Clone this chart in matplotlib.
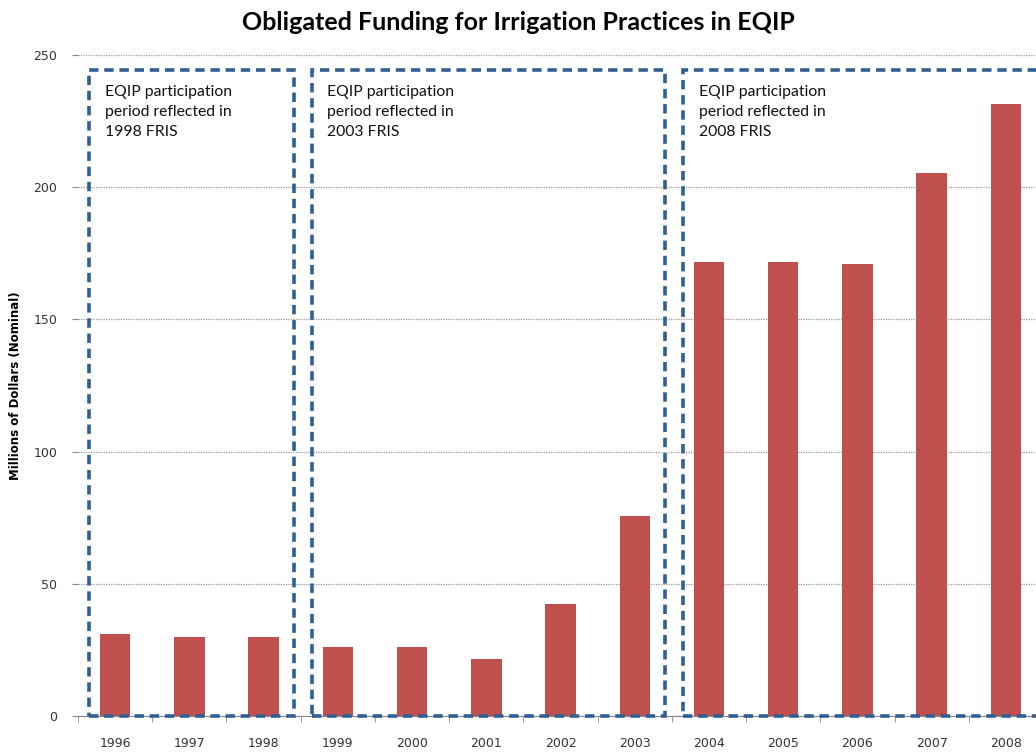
import matplotlib.pyplot as plt
from matplotlib.patches import Rectangle
import numpy as np

# data
years = ["1996", "1997", "1998", "1999", "2000", "2001", "2002",
         "2003", "2004", "2005", "2006", "2007", "2008"]
funding = [31, 30, 30, 26, 26, 21.5, 42.5, 75.5, 171.5, 171.5, 171, 205.5, 231.5]

# participation periods (first and last year index) and labels
period_starts = [0, 3, 8]
period_ends = [2, 7, 12]
period_labels = ["EQIP participation\nperiod reflected in\n1998 FRIS",
                 "EQIP participation\nperiod reflected in\n2003 FRIS",
                 "EQIP participation\nperiod reflected in\n2008 FRIS"]

bar_color = "#C0504D"
box_color = "#2F5F95"

fig = plt.figure(figsize=(10.36, 7.53), dpi=100)
ax = fig.add_axes([0.0753, 0.0491, 0.9315, 0.878])

x = np.arange(len(years))
ax.bar(x, funding, width=0.41, color=bar_color, zorder=2)

ax.set_xlim(-0.5, len(years) - 0.5)
ax.set_ylim(0, 250)
ax.set_yticks([0, 50, 100, 150, 200, 250])
ax.set_xticks(x)
ax.set_xticklabels(years)
ax.set_xticks(np.arange(-0.5, len(years), 1), minor=True)
ax.tick_params(axis="x", which="major", length=0, pad=15, labelsize=9, colors="#333333")
ax.tick_params(axis="x", which="minor", length=4, color="#888888")
ax.tick_params(axis="y", length=4, color="#888888", labelsize=9, labelcolor="#333333", pad=11)

ax.grid(axis="y", linestyle=(0, (1, 1)), color="#999999", linewidth=0.9, zorder=0)
for s in ["top", "right", "left"]:
    ax.spines[s].set_visible(False)
ax.spines["bottom"].set_color("#888888")

ax.set_ylabel("Millions of Dollars (Nominal)", fontsize=8.5, fontweight="bold", labelpad=8)

# dashed boxes around each period
for s, e, lab in zip(period_starts, period_ends, period_labels):
    left = s - 0.35
    right = e + 0.41 if e < 12 else e + 0.7
    rect = Rectangle((left, 0), right - left, 244.3, fill=False,
                     edgecolor=box_color, linewidth=2.6,
                     linestyle=(0, (2.6, 1.6)), zorder=3, clip_on=False)
    ax.add_patch(rect)
    ax.text(left + 0.21, 238.8, lab, fontsize=11.3, family="Lato",
            va="top", ha="left", linespacing=1.55, color="#111111")

fig.suptitle("Obligated Funding for Irrigation Practices in EQIP",
             fontsize=18, fontweight="bold", family="Lato", x=0.5, y=0.985)

fig.savefig("out.png", dpi=100)
